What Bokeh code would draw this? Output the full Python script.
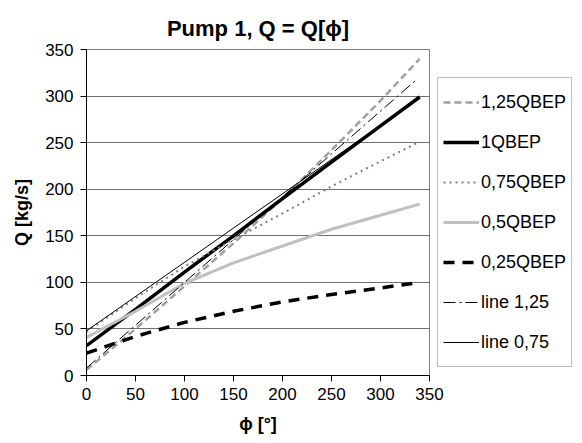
from bokeh.plotting import figure
from bokeh.models import Legend, LegendItem, FixedTicker, Range1d
from bokeh.embed import file_html
from bokeh.resources import INLINE

# ---- data ----
phi = [0, 50, 100, 150, 200, 250, 300, 340]
q_125 = [6, 50, 96, 142, 190, 242, 295, 340]
q_100 = [32, 71, 111, 150, 190, 229, 268, 299]
q_075 = [47, 83, 117, 146, 174, 203, 230, 251]
q_050 = [41, 69, 99, 121, 139, 157, 172, 184]
q_025 = [24, 42, 57, 69, 79, 87, 94, 100]
line125_x = [0, 335]
line125_y = [8, 316]
line075_x = [0, 340]
line075_y = [48, 298]
ticks = [0, 50, 100, 150, 200, 250, 300, 350]

FONT = "Liberation Sans"

p = figure(frame_width=343, frame_height=326, output_backend="svg", toolbar_location=None,
           x_range=Range1d(0, 350), y_range=Range1d(0, 350),
           min_border_left=86, min_border_right=150, min_border_top=49,
           min_border_bottom=64, title="Pump 1, Q = Q[ϕ]")
p.title.align = "center"
p.title.text_font = FONT
p.title.text_font_size = "22px"
p.title.text_font_style = "bold"
p.title.text_color = "black"
p.title.standoff = 18
p.title.padding = 0
p.title.text_line_height = 1.0

p.background_fill_color = "white"
p.border_fill_color = "white"
p.outline_line_color = "#808080"

for ax in (p.xaxis[0], p.yaxis[0]):
    ax.ticker = FixedTicker(ticks=ticks)
    ax.minor_tick_line_color = None
    ax.major_tick_in = 0
    ax.major_tick_out = 6
    ax.axis_line_color = "black"
    ax.major_tick_line_color = "black"
    ax.major_label_text_font = FONT
    ax.major_label_text_font_size = "17px"
    ax.major_label_text_color = "black"
    ax.axis_label_text_font = FONT
    ax.axis_label_text_font_size = "18px"
    ax.axis_label_text_font_style = "bold"
    ax.axis_label_text_color = "black"
p.xaxis.axis_label = "ϕ [°]"
p.yaxis.axis_label = "Q [kg/s]"
p.yaxis.major_label_standoff = 7
p.xaxis.major_label_standoff = 6
p.yaxis.axis_label_standoff = 10
p.xaxis.axis_label_standoff = 11

p.xgrid.grid_line_color = None
p.ygrid.grid_line_color = "#707070"
p.ygrid.grid_line_width = 1

r1 = p.line(phi, q_125, line_color="#a0a0a0", line_width=2.5, line_dash="7 4")
r2 = p.line(phi, q_100, line_color="black", line_width=3.5)
r3 = p.line(phi, q_075, line_color="#808080", line_width=2, line_dash="2 4")
r4 = p.line(phi, q_050, line_color="#c0c0c0", line_width=3)
r5 = p.line(phi, q_025, line_color="black", line_width=3.5, line_dash="11 8")
r6 = p.line(line125_x, line125_y, line_color="black", line_width=1, line_dash="12 4 2 4")
r7 = p.line(line075_x, line075_y, line_color="black", line_width=1)

legend = Legend(items=[
    LegendItem(label="1,25QBEP", renderers=[r1]),
    LegendItem(label="1QBEP", renderers=[r2]),
    LegendItem(label="0,75QBEP", renderers=[r3]),
    LegendItem(label="0,5QBEP", renderers=[r4]),
    LegendItem(label="0,25QBEP", renderers=[r5]),
    LegendItem(label="line 1,25", renderers=[r6]),
    LegendItem(label="line 0,75", renderers=[r7]),
], location="bottom_left")
legend.label_text_font = FONT
legend.label_text_font_size = "18px"
legend.label_text_color = "black"
legend.glyph_width = 36
legend.glyph_height = 38
legend.label_height = 38
legend.spacing = 2
legend.padding = 5
legend.margin = 8
legend.label_standoff = 2
legend.border_line_color = "#808080"
legend.background_fill_color = "white"
legend.background_fill_alpha = 1
p.add_layout(legend, "right")

open("out.html", "w").write(file_html(p, INLINE))
